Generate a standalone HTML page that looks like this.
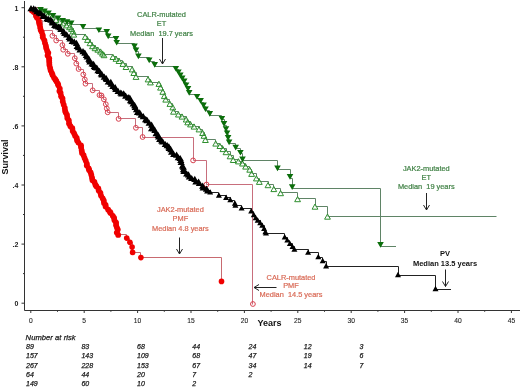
<!DOCTYPE html>
<html><head><meta charset="utf-8"><style>
html,body{margin:0;padding:0;background:#fff;}
body{width:520px;height:388px;position:relative;overflow:hidden;will-change:transform;font-family:"Liberation Sans",sans-serif;}
svg{position:absolute;left:0;top:0;}
.t{position:absolute;white-space:pre;line-height:1;}
.ann{font-size:7.4px;text-align:center;-webkit-text-stroke:0.2px currentColor;}
.g{color:#3f8044;} .r{color:#d96a56;}
.yl{font-size:7px;font-weight:bold;color:#222;text-align:right;width:20px;left:-1.7px;}
.xl{font-size:6.7px;color:#222;text-align:center;width:20px;-webkit-text-stroke:0.1px #222;}
.risk{font-size:7px;font-style:italic;color:#1a1a1a;-webkit-text-stroke:0.25px #1a1a1a;}
</style></head><body>
<svg width="520" height="388" viewBox="0 0 520 388">
<rect width="520" height="388" fill="#fff"/>
<g stroke="#333" stroke-width="1" fill="none">
<path d="M24.5 1V310.5H520"/>
<path d="M21.5 303.2H24.5"/>
<path d="M23.0 273.6H24.5"/>
<path d="M21.5 244.1H24.5"/>
<path d="M23.0 214.5H24.5"/>
<path d="M21.5 185.0H24.5"/>
<path d="M23.0 155.4H24.5"/>
<path d="M21.5 125.9H24.5"/>
<path d="M23.0 96.3H24.5"/>
<path d="M21.5 66.8H24.5"/>
<path d="M23.0 37.2H24.5"/>
<path d="M21.5 7.7H24.5"/>
<path d="M30.8 310.5V313.0"/>
<path d="M57.5 310.5V311.8"/>
<path d="M84.2 310.5V313.0"/>
<path d="M110.9 310.5V311.8"/>
<path d="M137.6 310.5V313.0"/>
<path d="M164.3 310.5V311.8"/>
<path d="M191.0 310.5V313.0"/>
<path d="M217.7 310.5V311.8"/>
<path d="M244.4 310.5V313.0"/>
<path d="M271.1 310.5V311.8"/>
<path d="M297.8 310.5V313.0"/>
<path d="M324.5 310.5V311.8"/>
<path d="M351.2 310.5V313.0"/>
<path d="M377.9 310.5V311.8"/>
<path d="M404.6 310.5V313.0"/>
<path d="M431.3 310.5V311.8"/>
<path d="M458.0 310.5V313.0"/>
<path d="M484.7 310.5V311.8"/>
<path d="M511.4 310.5V313.0"/>
</g>
<path d="M30.5 7.5H40.5V11.5H44.5V12.5H48.5V14.5H53.5V16.5H58.5V19.5H62.5V21.5H67.5V23.5H71.5V24.5H83.5V28.5H98.5V31.5H106.5V33.5H108.5V37.5H116.5V40.5H116.5V43.5H134.5V47.5H136.5V51.5H138.5V57.5H149.5V61.5H154.5V66.5H175.5V69.5H178.5V73.5H180.5V76.5H182.5V79.5H184.5V82.5H186.5V86.5H188.5V90.5H189.5V94.5H197.5V98.5H200.5V102.5H203.5V106.5H205.5V110.5H209.5V115.5H221.5V119.5H224.5V125.5H226.5V130.5H227.5V134.5H228.5V139.5H229.5V143.5H235.5V148.5H240.5V153.5H242.5V160.5H277.5V169.5H290.5V178.5H292.5V188.5H380.5V246.5H396.0" fill="none" stroke="#5f8466" stroke-width="1"/>
<path d="M30.5 7.5H40.5V10.5H44.5V12.5H48.5V14.5H52.5V17.5H56.5V19.5H59.5V21.5H63.5V23.5H66.5V25.5H69.5V26.5H71.5V28.5H73.5V31.5H73.5V34.5H85.5V36.5H87.5V39.5H90.5V42.5H92.5V45.5H95.5V47.5H97.5V49.5H100.5V51.5H102.5V53.5H104.5V54.5H112.5V56.5H116.5V58.5H119.5V60.5H122.5V63.5H126.5V66.5H132.5V69.5H133.5V72.5H136.5V76.5H148.5V79.5H150.5V82.5H158.5V83.5H160.5V87.5H162.5V91.5H164.5V95.5H165.5V99.5H169.5V103.5H172.5V107.5H173.5V111.5H178.5V114.5H182.5V116.5H186.5V119.5H187.5V121.5H190.5V124.5H194.5V126.5H199.5V129.5H202.5V132.5H204.5V135.5H205.5V139.5H215.5V143.5H219.5V145.5H222.5V148.5H226.5V151.5H230.5V155.5H233.5V159.5H238.5V161.5H242.5V163.5H245.5V166.5H249.5V169.5H251.5V173.5H256.5V178.5H259.5V181.5H268.5V184.5H273.5V188.5H280.5V192.5H297.5V198.5H315.5V206.5H327.5V216.5H496.5" fill="none" stroke="#5f8466" stroke-width="1"/>
<path d="M30.5 7.5H39.5V15.5H40.5V20.5H42.5V30.5H52.5V35.5H56.5V40.5H62.5V45.5H63.5V49.5H67.5V53.5H74.5V58.5H76.5V63.5H78.5V69.5H83.5V74.5H84.5V79.5H85.5V83.5H92.5V90.5H99.5V95.5H101.5V95.5H103.5V99.5H105.5V104.5H106.5V108.5H107.5V112.5H118.5V118.5H135.5V127.5H142.5V137.5H193.5V160.5H206.5V184.5H252.5V304.5" fill="none" stroke="#c86e7c" stroke-width="1"/>
<path d="M208.5 190.5H210.5V192.5H218.5V195.5H226.5V197.5H230.5V200.5H234.5V203.5H235.5V205.5H241.5V208.5H251.5V211.5H253.5V215.5H255.5V218.5H257.5V220.5H260.5V223.5H262.5V225.5H264.5V228.5H265.5V232.5H266.5V233.5H284.5V237.5H287.5V240.5H289.5V243.5H292.5V246.5H294.5V249.5H308.5V252.5H318.5V257.5H322.5V261.5H326.5V266.5H398.5V275.5H435.5V289.5H451.0" fill="none" stroke="#222" stroke-width="1"/>
<path d="M117.5 234.5H126.5V238.5H129.5V242.5H132.5V247.5H132.5V252.5H140.5V257.5H221.5V281.5" fill="none" stroke="#c86a70" stroke-width="1"/>
<path d="M40.0 8.2L42.9 13.4L37.1 13.4ZM44.0 10.2L46.9 15.4L41.1 15.4ZM48.0 12.2L50.9 17.4L45.1 17.4ZM52.0 14.7L54.9 19.9L49.1 19.9ZM56.0 17.2L58.9 22.4L53.1 22.4ZM59.5 19.2L62.4 24.4L56.6 24.4ZM63.0 20.7L65.9 25.9L60.1 25.9ZM66.5 22.7L69.4 27.9L63.6 27.9ZM69.5 24.5L72.4 29.7L66.6 29.7ZM71.5 26.2L74.4 31.4L68.6 31.4ZM73.0 28.7L75.9 33.9L70.1 33.9ZM73.8 31.9L76.7 37.1L70.9 37.1ZM85.2 34.2L88.1 39.4L82.3 39.4ZM87.5 37.2L90.4 42.4L84.6 42.4ZM90.0 40.5L92.9 45.7L87.1 45.7ZM92.5 43.5L95.4 48.7L89.6 48.7ZM95.0 45.5L97.9 50.7L92.1 50.7ZM97.8 47.0L100.7 52.2L94.9 52.2ZM100.5 48.9L103.4 54.1L97.6 54.1ZM102.5 50.9L105.4 56.1L99.6 56.1ZM104.0 52.5L106.9 57.7L101.1 57.7ZM112.9 54.3L115.8 59.5L110.0 59.5ZM116.0 56.1L118.9 61.3L113.1 61.3ZM119.0 58.3L121.9 63.5L116.1 63.5ZM122.9 61.2L125.8 66.4L120.0 66.4ZM126.0 64.3L128.9 69.5L123.1 69.5ZM132.2 66.7L135.1 71.9L129.3 71.9ZM133.8 70.3L136.7 75.5L130.9 75.5ZM136.0 74.2L138.9 79.4L133.1 79.4ZM148.1 76.7L151.0 81.9L145.2 81.9ZM150.4 79.7L153.3 84.9L147.5 84.9ZM158.9 81.2L161.8 86.4L156.0 86.4ZM160.5 84.9L163.4 90.1L157.6 90.1ZM162.8 89.1L165.7 94.3L159.9 94.3ZM164.3 93.4L167.2 98.6L161.4 98.6ZM165.7 96.9L168.6 102.1L162.8 102.1ZM169.9 101.2L172.8 106.4L167.0 106.4ZM172.8 104.7L175.7 109.9L169.9 109.9ZM173.5 109.0L176.4 114.2L170.6 114.2ZM178.4 111.8L181.3 117.0L175.5 117.0ZM182.0 113.9L184.9 119.1L179.1 119.1ZM186.2 116.8L189.1 122.0L183.3 122.0ZM187.7 119.6L190.6 124.8L184.8 124.8ZM190.5 121.7L193.4 126.9L187.6 126.9ZM194.0 123.9L196.9 129.1L191.1 129.1ZM199.0 126.7L201.9 131.9L196.1 131.9ZM202.6 130.3L205.5 135.5L199.7 135.5ZM204.0 133.1L206.9 138.3L201.1 138.3ZM205.4 137.3L208.3 142.5L202.5 142.5ZM215.7 140.9L218.6 146.1L212.8 146.1ZM219.9 143.3L222.8 148.5L217.0 148.5ZM222.9 146.4L225.8 151.6L220.0 151.6ZM226.0 149.5L228.9 154.7L223.1 154.7ZM230.1 153.6L233.0 158.8L227.2 158.8ZM233.2 157.3L236.1 162.5L230.3 162.5ZM238.4 158.7L241.3 163.9L235.5 163.9ZM242.5 160.8L245.4 166.0L239.6 166.0ZM245.6 163.9L248.5 169.1L242.7 169.1ZM249.7 167.0L252.6 172.2L246.8 172.2ZM251.6 171.2L254.5 176.4L248.7 176.4ZM256.4 175.7L259.3 180.9L253.5 180.9ZM259.3 179.2L262.2 184.4L256.4 184.4ZM268.0 182.5L270.9 187.7L265.1 187.7ZM273.8 186.4L276.7 191.6L270.9 191.6ZM280.6 190.5L283.5 195.7L277.7 195.7ZM297.6 196.5L300.5 201.7L294.7 201.7ZM315.0 204.0L317.9 209.2L312.1 209.2ZM327.5 214.0L330.4 219.2L324.6 219.2Z" fill="#fff" fill-opacity="0.6" stroke="#2f8f2f" stroke-width="1.0"/>
<path d="M37.2 7.1L43.8 7.1L40.5 12.7ZM41.2 8.4L47.8 8.4L44.5 14.0ZM45.2 10.4L51.8 10.4L48.5 16.0ZM49.7 12.9L56.3 12.9L53.0 18.5ZM54.7 15.4L61.3 15.4L58.0 21.0ZM59.4 17.9L66.0 17.9L62.7 23.5ZM63.7 19.3L70.3 19.3L67.0 24.9ZM67.9 20.6L74.5 20.6L71.2 26.2ZM79.7 24.1L86.3 24.1L83.0 29.7ZM95.6 27.4L102.2 27.4L98.9 33.0ZM103.4 29.1L110.0 29.1L106.7 34.7ZM104.9 33.6L111.5 33.6L108.2 39.2ZM112.7 36.1L119.3 36.1L116.0 41.7ZM113.4 39.9L120.0 39.9L116.7 45.5ZM131.2 43.6L137.8 43.6L134.5 49.2ZM132.7 47.6L139.3 47.6L136.0 53.2ZM135.1 53.6L141.7 53.6L138.4 59.2ZM145.9 57.6L152.5 57.6L149.2 63.2ZM151.4 62.1L158.0 62.1L154.7 67.7ZM172.5 65.9L179.1 65.9L175.8 71.5ZM175.1 69.5L181.7 69.5L178.4 75.1ZM177.0 72.6L183.6 72.6L180.3 78.2ZM178.9 75.6L185.5 75.6L182.2 81.2ZM180.9 78.6L187.5 78.6L184.2 84.2ZM182.8 82.4L189.4 82.4L186.1 88.0ZM184.7 86.1L191.3 86.1L188.0 91.7ZM185.9 90.1L192.5 90.1L189.2 95.7ZM193.7 94.1L200.3 94.1L197.0 99.7ZM197.3 98.1L203.9 98.1L200.6 103.7ZM200.2 102.6L206.8 102.6L203.5 108.2ZM202.2 106.4L208.8 106.4L205.5 112.0ZM206.5 111.1L213.1 111.1L209.8 116.7ZM218.6 116.0L225.2 116.0L221.9 121.6ZM220.7 121.1L227.3 121.1L224.0 126.7ZM222.7 126.2L229.3 126.2L226.0 131.8ZM223.8 130.4L230.4 130.4L227.1 136.0ZM224.8 135.1L231.4 135.1L228.1 140.7ZM225.8 139.6L232.4 139.6L229.1 145.2ZM232.4 144.8L239.0 144.8L235.7 150.4ZM237.1 149.9L243.7 149.9L240.4 155.5ZM239.2 156.6L245.8 156.6L242.5 162.2ZM274.2 165.6L280.8 165.6L277.5 171.2ZM286.7 174.1L293.3 174.1L290.0 179.7ZM288.9 184.3L295.5 184.3L292.2 189.9ZM377.2 242.1L383.8 242.1L380.5 247.7Z" fill="#0b6e0b"/>
<g fill="none" stroke="#d8404e" stroke-width="1.0">
<circle cx="52.4" cy="35.8" r="2.4"/>
<circle cx="56.2" cy="40.5" r="2.4"/>
<circle cx="62.4" cy="45.1" r="2.4"/>
<circle cx="63.2" cy="49.7" r="2.4"/>
<circle cx="67.8" cy="53.8" r="2.4"/>
<circle cx="74.8" cy="58.2" r="2.4"/>
<circle cx="76.3" cy="63.6" r="2.4"/>
<circle cx="78.6" cy="69.0" r="2.4"/>
<circle cx="83.3" cy="74.5" r="2.4"/>
<circle cx="84.8" cy="79.5" r="2.4"/>
<circle cx="85.5" cy="83.7" r="2.4"/>
<circle cx="92.7" cy="90.3" r="2.4"/>
<circle cx="99.5" cy="95.1" r="2.4"/>
<circle cx="101.5" cy="95.5" r="2.4"/>
<circle cx="103.9" cy="99.3" r="2.4"/>
<circle cx="105.8" cy="104.2" r="2.4"/>
<circle cx="106.8" cy="108.5" r="2.4"/>
<circle cx="107.7" cy="112.3" r="2.4"/>
<circle cx="118.6" cy="118.9" r="2.4"/>
<circle cx="135.9" cy="127.8" r="2.4"/>
<circle cx="142.6" cy="137.0" r="2.4"/>
<circle cx="193.1" cy="160.4" r="2.4"/>
<circle cx="206.5" cy="184.5" r="2.4"/>
<circle cx="252.9" cy="304.0" r="2.4"/>
</g>
<path d="M32.3 10.5 L34.0 11.8 L36.6 15.5 L38.5 22.0 L40.8 30.0 L43.9 40.3 L47.3 50.6 L49.0 60.9 L49.6 65.0 L50.4 70.0 L52.4 75.3 L58.6 85.6 L61.4 95.9 L62.6 102.0 L65.1 110.3 L68.6 120.6 L72.8 130.9 L77.2 140.2 L80.3 145.3 L83.4 155.6 L87.5 165.9 L89.4 170.0 L91.5 175.0 L92.8 180.3 L99.1 190.6 L103.3 200.9 L106.0 207.0 L108.2 210.0 L111.0 213.2 L115.0 220.5 L117.0 227.7 L117.7 234.4" fill="none" stroke="#f00000" stroke-width="4.2" stroke-linejoin="round" stroke-linecap="round"/>
<g fill="#f00000">
<circle cx="31.9" cy="10.5" r="2.9"/>
<circle cx="33.8" cy="11.9" r="2.9"/>
<circle cx="35.5" cy="13.2" r="2.9"/>
<circle cx="35.9" cy="15.8" r="2.9"/>
<circle cx="36.9" cy="17.4" r="2.9"/>
<circle cx="38.6" cy="19.8" r="2.9"/>
<circle cx="39.0" cy="22.0" r="2.9"/>
<circle cx="39.5" cy="24.3" r="2.9"/>
<circle cx="40.2" cy="27.7" r="2.9"/>
<circle cx="40.8" cy="30.2" r="2.9"/>
<circle cx="41.8" cy="32.1" r="2.9"/>
<circle cx="42.7" cy="35.2" r="2.9"/>
<circle cx="42.8" cy="37.3" r="2.9"/>
<circle cx="44.4" cy="40.3" r="2.9"/>
<circle cx="45.1" cy="43.3" r="2.9"/>
<circle cx="45.9" cy="45.9" r="2.9"/>
<circle cx="46.3" cy="48.3" r="2.9"/>
<circle cx="47.2" cy="51.0" r="2.9"/>
<circle cx="48.3" cy="52.8" r="2.9"/>
<circle cx="47.6" cy="55.5" r="2.9"/>
<circle cx="49.2" cy="58.3" r="2.9"/>
<circle cx="49.2" cy="60.7" r="2.9"/>
<circle cx="49.3" cy="62.8" r="2.9"/>
<circle cx="49.4" cy="65.1" r="2.9"/>
<circle cx="50.1" cy="67.9" r="2.9"/>
<circle cx="50.7" cy="70.4" r="2.9"/>
<circle cx="51.9" cy="73.1" r="2.9"/>
<circle cx="52.6" cy="75.0" r="2.9"/>
<circle cx="54.1" cy="77.8" r="2.9"/>
<circle cx="55.4" cy="79.5" r="2.9"/>
<circle cx="56.4" cy="81.2" r="2.9"/>
<circle cx="57.8" cy="83.6" r="2.9"/>
<circle cx="58.3" cy="85.2" r="2.9"/>
<circle cx="59.8" cy="88.7" r="2.9"/>
<circle cx="59.4" cy="91.1" r="2.9"/>
<circle cx="60.6" cy="93.0" r="2.9"/>
<circle cx="61.1" cy="96.2" r="2.9"/>
<circle cx="62.5" cy="98.5" r="2.9"/>
<circle cx="62.8" cy="101.5" r="2.9"/>
<circle cx="63.7" cy="104.6" r="2.9"/>
<circle cx="64.8" cy="108.0" r="2.9"/>
<circle cx="65.1" cy="110.8" r="2.9"/>
<circle cx="65.7" cy="112.5" r="2.9"/>
<circle cx="67.0" cy="115.0" r="2.9"/>
<circle cx="67.3" cy="117.9" r="2.9"/>
<circle cx="68.8" cy="120.3" r="2.9"/>
<circle cx="69.0" cy="123.5" r="2.9"/>
<circle cx="70.4" cy="126.2" r="2.9"/>
<circle cx="72.3" cy="128.2" r="2.9"/>
<circle cx="72.7" cy="130.9" r="2.9"/>
<circle cx="74.1" cy="133.3" r="2.9"/>
<circle cx="75.1" cy="135.7" r="2.9"/>
<circle cx="76.7" cy="137.9" r="2.9"/>
<circle cx="77.1" cy="140.4" r="2.9"/>
<circle cx="78.4" cy="142.6" r="2.9"/>
<circle cx="81.0" cy="145.3" r="2.9"/>
<circle cx="81.1" cy="147.4" r="2.9"/>
<circle cx="81.7" cy="150.5" r="2.9"/>
<circle cx="82.0" cy="153.1" r="2.9"/>
<circle cx="83.6" cy="155.2" r="2.9"/>
<circle cx="84.6" cy="158.1" r="2.9"/>
<circle cx="85.7" cy="160.6" r="2.9"/>
<circle cx="86.8" cy="163.6" r="2.9"/>
<circle cx="86.8" cy="165.5" r="2.9"/>
<circle cx="88.7" cy="168.4" r="2.9"/>
<circle cx="89.1" cy="170.0" r="2.9"/>
<circle cx="90.6" cy="172.3" r="2.9"/>
<circle cx="91.3" cy="174.8" r="2.9"/>
<circle cx="92.0" cy="177.7" r="2.9"/>
<circle cx="92.5" cy="180.2" r="2.9"/>
<circle cx="94.4" cy="181.9" r="2.9"/>
<circle cx="95.4" cy="184.7" r="2.9"/>
<circle cx="96.3" cy="186.2" r="2.9"/>
<circle cx="98.3" cy="188.3" r="2.9"/>
<circle cx="98.7" cy="190.5" r="2.9"/>
<circle cx="100.4" cy="192.8" r="2.9"/>
<circle cx="101.0" cy="195.6" r="2.9"/>
<circle cx="102.7" cy="198.3" r="2.9"/>
<circle cx="103.8" cy="200.6" r="2.9"/>
<circle cx="104.0" cy="203.1" r="2.9"/>
<circle cx="105.6" cy="204.9" r="2.9"/>
<circle cx="105.6" cy="206.6" r="2.9"/>
<circle cx="108.2" cy="209.7" r="2.9"/>
<circle cx="110.0" cy="211.9" r="2.9"/>
<circle cx="110.6" cy="213.0" r="2.9"/>
<circle cx="112.8" cy="215.8" r="2.9"/>
<circle cx="114.1" cy="217.9" r="2.9"/>
<circle cx="114.5" cy="220.3" r="2.9"/>
<circle cx="116.1" cy="222.7" r="2.9"/>
<circle cx="116.1" cy="225.2" r="2.9"/>
<circle cx="116.9" cy="227.6" r="2.9"/>
<circle cx="117.8" cy="229.6" r="2.9"/>
<circle cx="116.8" cy="232.6" r="2.9"/>
<circle cx="118.2" cy="234.9" r="2.9"/>
<circle cx="126.7" cy="238.1" r="2.8"/>
<circle cx="129.9" cy="242.2" r="2.8"/>
<circle cx="132.1" cy="247.1" r="2.8"/>
<circle cx="132.6" cy="252.4" r="2.8"/>
<circle cx="140.9" cy="257.6" r="2.8"/>
<circle cx="221.5" cy="281.4" r="2.8"/>
</g>
<path d="M31.0 5.0L34.6 11.2L27.4 11.2ZM33.7 5.3L37.3 11.5L30.1 11.5ZM35.6 6.3L39.2 12.5L32.0 12.5ZM37.0 8.0L40.6 14.2L33.4 14.2ZM39.2 9.4L42.8 15.6L35.6 15.6ZM40.9 10.0L44.5 16.2L37.3 16.2ZM43.2 12.6L46.8 18.8L39.6 18.8ZM44.3 12.8L47.9 19.0L40.7 19.0ZM46.9 15.4L50.5 21.6L43.3 21.6ZM48.5 15.8L52.1 22.0L44.9 22.0ZM50.9 16.5L54.5 22.7L47.3 22.7ZM52.3 18.2L55.9 24.4L48.7 24.4ZM52.7 19.3L56.3 25.5L49.1 25.5ZM54.7 21.8L58.3 28.0L51.1 28.0ZM56.1 22.6L59.7 28.8L52.5 28.8ZM58.6 23.4L62.2 29.6L55.0 29.6ZM60.1 24.0L63.7 30.2L56.5 30.2ZM60.9 25.9L64.5 32.1L57.3 32.1ZM63.7 28.0L67.3 34.2L60.1 34.2ZM64.7 29.9L68.3 36.1L61.1 36.1ZM66.7 31.3L70.3 37.5L63.1 37.5ZM69.2 33.8L72.8 40.0L65.6 40.0ZM70.0 35.4L73.6 41.6L66.4 41.6ZM72.2 37.7L75.8 43.9L68.6 43.9ZM74.3 38.4L77.9 44.6L70.7 44.6ZM76.5 39.8L80.1 46.0L72.9 46.0ZM77.2 42.8L80.8 49.0L73.6 49.0ZM78.4 44.1L82.0 50.3L74.8 50.3ZM80.0 46.3L83.6 52.5L76.4 52.5ZM83.0 48.0L86.6 54.2L79.4 54.2ZM84.9 49.5L88.5 55.7L81.3 55.7ZM86.3 51.9L89.9 58.1L82.7 58.1ZM87.2 53.2L90.8 59.4L83.6 59.4ZM88.9 55.6L92.5 61.8L85.3 61.8ZM89.5 56.6L93.1 62.8L85.9 62.8ZM89.9 58.2L93.5 64.4L86.3 64.4ZM92.1 60.4L95.7 66.6L88.5 66.6ZM93.6 60.7L97.2 66.9L90.0 66.9ZM94.3 62.7L97.9 68.9L90.7 68.9ZM95.1 63.7L98.7 69.9L91.5 69.9ZM96.8 64.4L100.4 70.6L93.2 70.6ZM98.0 67.1L101.6 73.3L94.4 73.3ZM99.5 67.8L103.1 74.0L95.9 74.0ZM101.3 70.4L104.9 76.6L97.7 76.6ZM102.1 71.2L105.7 77.4L98.5 77.4ZM104.3 73.5L107.9 79.7L100.7 79.7ZM106.2 74.9L109.8 81.1L102.6 81.1ZM106.7 75.8L110.3 82.0L103.1 82.0ZM108.3 78.3L111.9 84.5L104.7 84.5ZM110.8 78.7L114.4 84.9L107.2 84.9ZM111.1 80.5L114.7 86.7L107.5 86.7ZM112.9 82.7L116.5 88.9L109.3 88.9ZM115.2 84.1L118.8 90.3L111.6 90.3ZM115.8 85.9L119.4 92.1L112.2 92.1ZM118.1 87.7L121.7 93.9L114.5 93.9ZM120.8 89.4L124.4 95.6L117.2 95.6ZM121.7 90.3L125.3 96.5L118.1 96.5ZM123.7 90.3L127.3 96.5L120.1 96.5ZM125.7 92.6L129.3 98.8L122.1 98.8ZM128.2 94.0L131.8 100.2L124.6 100.2ZM129.8 94.6L133.4 100.8L126.2 100.8ZM130.5 97.0L134.1 103.2L126.9 103.2ZM131.7 98.0L135.3 104.2L128.1 104.2ZM133.2 100.2L136.8 106.4L129.6 106.4ZM134.7 102.0L138.3 108.2L131.1 108.2ZM135.2 103.9L138.8 110.1L131.6 110.1ZM136.5 106.1L140.1 112.3L132.9 112.3ZM137.5 108.8L141.1 115.0L133.9 115.0ZM139.7 109.2L143.3 115.4L136.1 115.4ZM141.1 111.6L144.7 117.8L137.5 117.8ZM143.3 113.1L146.9 119.3L139.7 119.3ZM145.6 116.0L149.2 122.2L142.0 122.2ZM146.4 116.4L150.0 122.6L142.8 122.6ZM147.3 117.1L150.9 123.3L143.7 123.3ZM149.2 119.5L152.8 125.7L145.6 125.7ZM151.6 121.5L155.2 127.7L148.0 127.7ZM151.6 125.1L155.2 131.3L148.0 131.3ZM153.7 125.3L157.3 131.5L150.1 131.5ZM154.9 126.8L158.5 133.0L151.3 133.0ZM156.1 130.1L159.7 136.3L152.5 136.3ZM158.2 131.7L161.8 137.9L154.6 137.9ZM158.6 133.2L162.2 139.4L155.0 139.4ZM159.7 135.7L163.3 141.9L156.1 141.9ZM161.7 137.4L165.3 143.6L158.1 143.6ZM162.7 138.2L166.3 144.4L159.1 144.4ZM165.3 140.9L168.9 147.1L161.7 147.1ZM167.2 142.0L170.8 148.2L163.6 148.2ZM168.9 143.2L172.5 149.4L165.3 149.4ZM169.2 144.9L172.8 151.1L165.6 151.1ZM170.8 146.1L174.4 152.3L167.2 152.3ZM171.6 148.6L175.2 154.8L168.0 154.8ZM173.7 150.7L177.3 156.9L170.1 156.9ZM176.6 151.6L180.2 157.8L173.0 157.8ZM178.3 154.0L181.9 160.2L174.7 160.2ZM180.2 154.9L183.8 161.1L176.6 161.1ZM180.8 156.8L184.4 163.0L177.2 163.0ZM181.2 158.8L184.8 165.0L177.6 165.0ZM182.5 162.2L186.1 168.4L178.9 168.4ZM183.3 163.5L186.9 169.7L179.7 169.7ZM183.5 166.1L187.1 172.3L179.9 172.3ZM183.9 167.9L187.5 174.1L180.3 174.1ZM186.7 170.2L190.3 176.4L183.1 176.4ZM188.5 171.2L192.1 177.4L184.9 177.4ZM189.4 173.3L193.0 179.5L185.8 179.5ZM191.7 174.9L195.3 181.1L188.1 181.1ZM194.8 175.7L198.4 181.9L191.2 181.9ZM195.9 178.2L199.5 184.4L192.3 184.4ZM198.6 178.4L202.2 184.6L195.0 184.6ZM199.4 179.9L203.0 186.1L195.8 186.1ZM202.7 182.6L206.3 188.8L199.1 188.8ZM203.2 184.2L206.8 190.4L199.6 190.4ZM206.5 185.5L210.1 191.7L202.9 191.7ZM207.7 187.2L211.3 193.4L204.1 193.4ZM210.2 189.2L213.2 194.6L207.2 194.6ZM218.9 192.3L221.9 197.7L215.9 197.7ZM226.1 194.6L229.1 200.0L223.1 200.0ZM230.3 196.8L233.3 202.2L227.3 202.2ZM234.9 200.3L237.9 205.7L231.9 205.7ZM235.4 202.3L238.4 207.7L232.4 207.7ZM241.6 205.2L244.6 210.6L238.6 210.6ZM251.2 208.1L254.2 213.5L248.2 213.5ZM253.8 211.8L256.8 217.2L250.8 217.2ZM255.7 214.8L258.7 220.2L252.7 220.2ZM257.7 217.3L260.7 222.7L254.7 222.7ZM260.2 219.8L263.2 225.2L257.2 225.2ZM262.2 222.4L265.2 227.8L259.2 227.8ZM264.1 225.6L267.1 231.0L261.1 231.0ZM265.4 228.8L268.4 234.2L262.4 234.2ZM266.0 230.2L269.0 235.6L263.0 235.6ZM284.7 234.0L287.7 239.4L281.7 239.4ZM287.3 237.2L290.3 242.6L284.3 242.6ZM289.9 240.5L292.9 245.9L286.9 245.9ZM292.5 243.7L295.5 249.1L289.5 249.1ZM294.4 246.3L297.4 251.7L291.4 251.7ZM308.1 249.4L311.1 254.8L305.1 254.8ZM318.3 253.8L321.3 259.2L315.3 259.2ZM322.7 257.8L325.7 263.2L319.7 263.2ZM326.1 263.0L329.1 268.4L323.1 268.4ZM398.0 271.8L401.0 277.2L395.0 277.2ZM435.5 285.8L438.5 291.2L432.5 291.2Z" fill="#000"/>
<path d="M162.5 38.0V64.0M159.5 59.0L162.5 64.0L165.5 59.0" fill="none" stroke="#222" stroke-width="1"/>
<path d="M426.5 193.0V210.0M423.5 205.0L426.5 210.0L429.5 205.0" fill="none" stroke="#222" stroke-width="1"/>
<path d="M179.5 237.5V254.0M176.5 249.0L179.5 254.0L182.5 249.0" fill="none" stroke="#222" stroke-width="1"/>
<path d="M445.5 269.5V286.5M442.5 281.5L445.5 286.5L448.5 281.5" fill="none" stroke="#222" stroke-width="1"/>
<path d="M276.5 287.5H254M259 284.5L254 287.5L259 290.5" fill="none" stroke="#222" stroke-width="1"/>
</svg>
<div class="t yl" style="top:4.7px">1</div>
<div class="t yl" style="top:63.8px">.8</div>
<div class="t yl" style="top:122.9px">.6</div>
<div class="t yl" style="top:182.0px">.4</div>
<div class="t yl" style="top:241.1px">.2</div>
<div class="t yl" style="top:300.2px">0</div>
<div class="t xl" style="left:20.8px;top:317.9px">0</div>
<div class="t xl" style="left:74.2px;top:317.9px">5</div>
<div class="t xl" style="left:127.6px;top:317.9px">10</div>
<div class="t xl" style="left:181.0px;top:317.9px">15</div>
<div class="t xl" style="left:234.4px;top:317.9px">20</div>
<div class="t xl" style="left:287.8px;top:317.9px">25</div>
<div class="t xl" style="left:341.2px;top:317.9px">30</div>
<div class="t xl" style="left:394.6px;top:317.9px">35</div>
<div class="t xl" style="left:448.0px;top:317.9px">40</div>
<div class="t xl" style="left:501.4px;top:317.9px">45</div>
<div class="t" style="left:257.6px;top:318.6px;font-size:9px;font-weight:bold;color:#111">Years</div>
<div class="t" style="left:1.1px;top:157.3px;font-size:9px;font-weight:bold;color:#111;transform:translate(0,0) rotate(-90deg);transform-origin:0 0;"><span style="position:relative;left:-17.6px;top:0">Survival</span></div>
<div class="t ann g" style="left:111.5px;width:100px;top:10.5px;">CALR-mutated</div><div class="t ann g" style="left:111.5px;width:100px;top:20.0px;">ET</div><div class="t ann g" style="left:111.5px;width:100px;top:29.5px;">Median  19.7 years</div>
<div class="t ann g" style="left:376.3px;width:100px;top:164.9px;">JAK2-mutated</div><div class="t ann g" style="left:376.3px;width:100px;top:174.0px;">ET</div><div class="t ann g" style="left:376.3px;width:100px;top:183.1px;">Median  19 years</div>
<div class="t ann r" style="left:130.4px;width:100px;top:206.1px;">JAK2-mutated</div><div class="t ann r" style="left:130.4px;width:100px;top:215.3px;">PMF</div><div class="t ann r" style="left:130.4px;width:100px;top:224.5px;">Median 4.8 years</div>
<div class="t ann r" style="left:241.0px;width:100px;top:273.5px;">CALR-mutated</div><div class="t ann r" style="left:241.0px;width:100px;top:282.4px;">PMF</div><div class="t ann r" style="left:241.0px;width:100px;top:291.3px;">Median  14.5 years</div>
<div class="t" style="left:395px;width:100px;text-align:center;top:249.5px;font-size:7.5px;font-weight:bold;color:#111">PV</div>
<div class="t" style="left:395px;width:100px;text-align:center;top:259.5px;font-size:7.5px;font-weight:bold;color:#111">Median 13.5 years</div>
<div class="t risk" style="left:25.6px;top:333.8px;font-size:7.6px;letter-spacing:0.05px">Number at risk</div>
<div class="t risk" style="left:26.0px;top:343.1px">89</div>
<div class="t risk" style="left:81.4px;top:343.1px">83</div>
<div class="t risk" style="left:137.0px;top:343.1px">68</div>
<div class="t risk" style="left:192.3px;top:343.1px">44</div>
<div class="t risk" style="left:248.5px;top:343.1px">24</div>
<div class="t risk" style="left:303.8px;top:343.1px">12</div>
<div class="t risk" style="left:359.6px;top:343.1px">3</div>
<div class="t risk" style="left:26.0px;top:352.4px">157</div>
<div class="t risk" style="left:81.4px;top:352.4px">143</div>
<div class="t risk" style="left:137.0px;top:352.4px">109</div>
<div class="t risk" style="left:192.3px;top:352.4px">68</div>
<div class="t risk" style="left:248.5px;top:352.4px">47</div>
<div class="t risk" style="left:303.8px;top:352.4px">19</div>
<div class="t risk" style="left:359.6px;top:352.4px">6</div>
<div class="t risk" style="left:26.0px;top:361.7px">267</div>
<div class="t risk" style="left:81.4px;top:361.7px">228</div>
<div class="t risk" style="left:137.0px;top:361.7px">153</div>
<div class="t risk" style="left:192.3px;top:361.7px">67</div>
<div class="t risk" style="left:248.5px;top:361.7px">34</div>
<div class="t risk" style="left:303.8px;top:361.7px">14</div>
<div class="t risk" style="left:359.6px;top:361.7px">7</div>
<div class="t risk" style="left:26.0px;top:371.0px">64</div>
<div class="t risk" style="left:81.4px;top:371.0px">44</div>
<div class="t risk" style="left:137.0px;top:371.0px">20</div>
<div class="t risk" style="left:192.3px;top:371.0px">7</div>
<div class="t risk" style="left:248.5px;top:371.0px">2</div>
<div class="t risk" style="left:26.0px;top:380.3px">149</div>
<div class="t risk" style="left:81.4px;top:380.3px">60</div>
<div class="t risk" style="left:137.0px;top:380.3px">10</div>
<div class="t risk" style="left:192.3px;top:380.3px">2</div>
</body></html>
